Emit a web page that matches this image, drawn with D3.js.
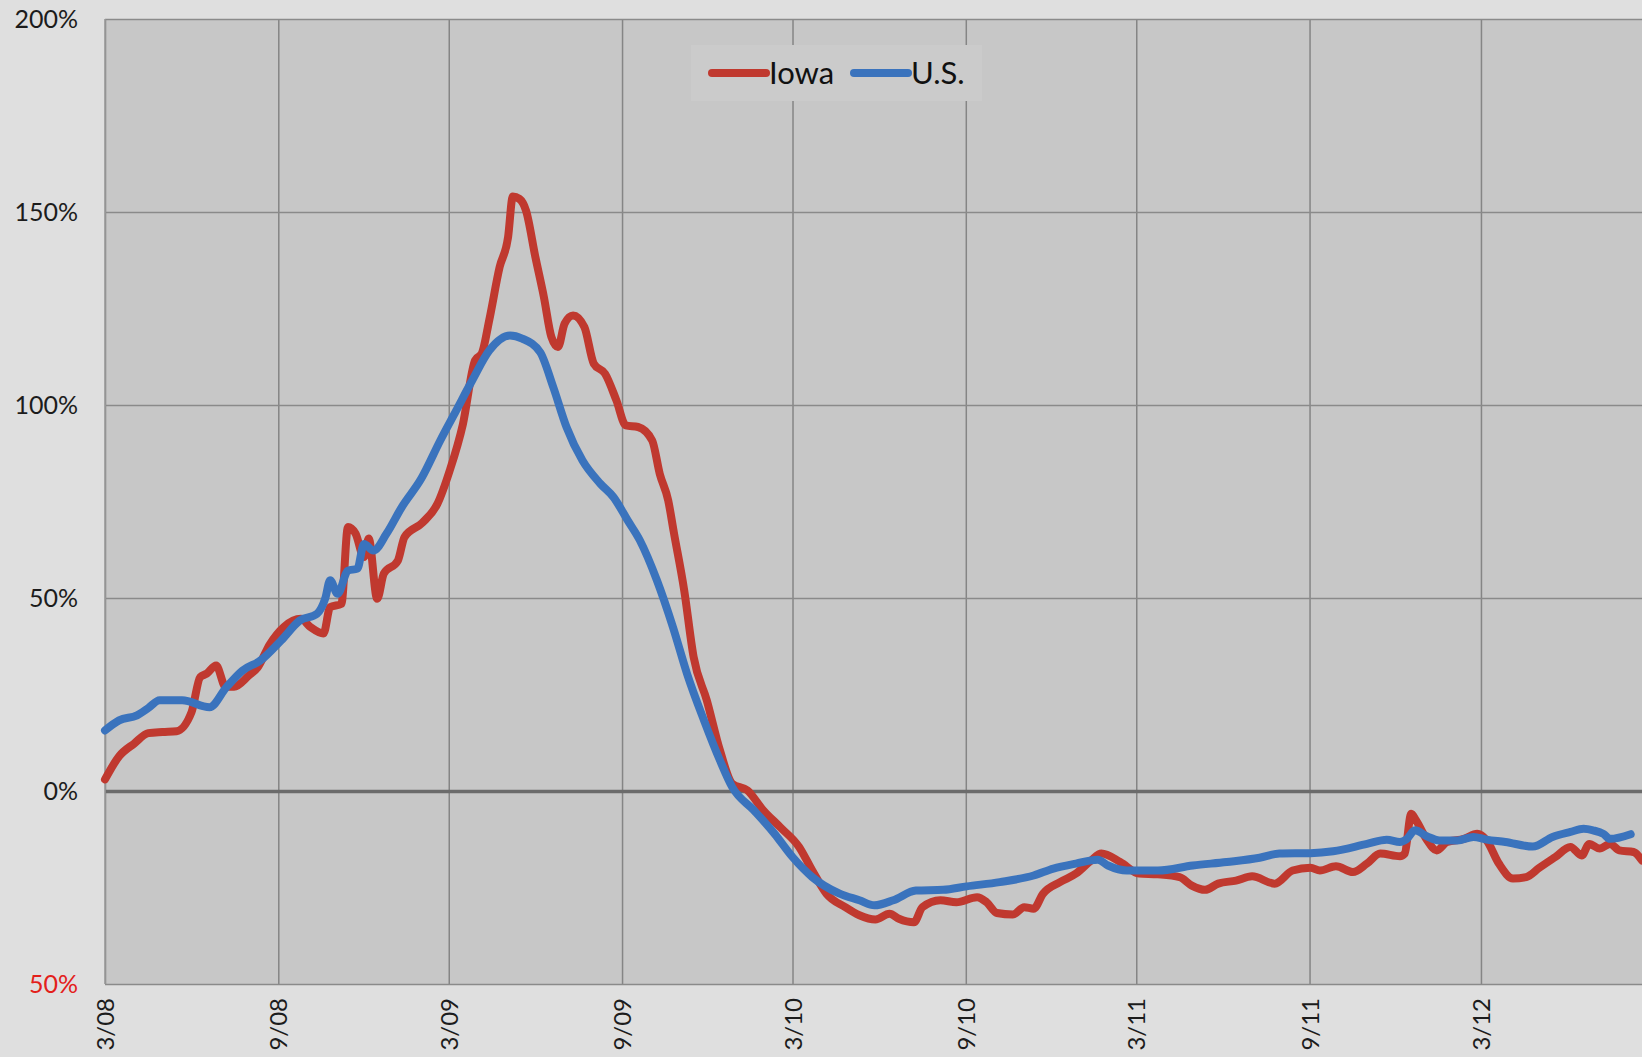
<!DOCTYPE html>
<html>
<head>
<meta charset="utf-8">
<script src="https://cdn.jsdelivr.net/npm/d3@7"></script>
<style>
  html, body { margin: 0; padding: 0; background: #dfdfdf; }
  svg { display: block; }
</style>
</head>
<body>
<svg id="chart" width="1642" height="1057"></svg>
<script>
// ---------- data ----------
const seriesNames = ["Iowa", "U.S."];

const xTickDates = ["2008-03-01","2008-09-01","2009-03-01","2009-09-01","2010-03-01","2010-09-01","2011-03-01","2011-09-01","2012-03-01"];
const xTickLabels = ["3/08","9/08","3/09","9/09","3/10","9/10","3/11","9/11","3/12"];

const yTickValues = [200, 150, 100, 50, 0, -50];
const yTickLabels = ["200%","150%","100%","50%","0%","50%"];

const iowaDates = [
"2008-03-01","2008-03-16","2008-04-01","2008-04-16","2008-05-01","2008-05-16","2008-06-01","2008-06-10","2008-06-17","2008-06-27",
"2008-07-07","2008-07-16","2008-08-01","2008-08-10","2008-08-23","2008-09-07","2008-09-25","2008-10-05","2008-10-19","2008-10-26",
"2008-11-07","2008-11-14","2008-11-22","2008-12-01","2008-12-06","2008-12-15","2008-12-22","2009-01-06","2009-01-13","2009-02-01",
"2009-02-17","2009-03-02","2009-03-16","2009-03-29","2009-04-05","2009-04-13","2009-04-24","2009-05-03","2009-05-08","2009-05-15",
"2009-05-22","2009-06-01","2009-06-10","2009-06-18","2009-06-25","2009-07-02","2009-07-11","2009-07-23","2009-08-02","2009-08-14",
"2009-08-26","2009-09-05","2009-09-18","2009-10-03","2009-10-11","2009-10-20","2009-10-26","2009-11-06","2009-11-16","2009-11-30",
"2009-12-14","2009-12-27","2010-01-12","2010-01-29","2010-02-16","2010-03-08","2010-03-22","2010-04-06","2010-04-26","2010-05-11",
"2010-05-28","2010-06-12","2010-06-22","2010-07-08","2010-07-17","2010-08-05","2010-08-22","2010-09-13","2010-09-23","2010-10-04",
"2010-10-21","2010-11-02","2010-11-12","2010-11-22","2010-12-10","2010-12-27","2011-01-12","2011-01-23","2011-02-12","2011-03-04",
"2011-03-24","2011-04-16","2011-04-29","2011-05-13","2011-05-27","2011-06-15","2011-07-02","2011-07-26","2011-08-14","2011-09-02",
"2011-09-12","2011-09-29","2011-10-17","2011-11-01","2011-11-15","2011-12-06","2011-12-11","2011-12-18","2011-12-23","2012-01-04",
"2012-01-14","2012-01-25","2012-02-12","2012-02-26","2012-03-07","2012-03-20","2012-04-04","2012-04-18","2012-05-02","2012-05-19",
"2012-06-04","2012-06-16","2012-06-24","2012-07-05","2012-07-16","2012-07-26","2012-08-10","2012-08-19"];
const iowaValues = [
3, 9, 12.3, 15, 15.3, 15.5, 20.5, 29.5, 30.4, 32.5,
27, 27, 30, 32, 38, 42.5, 44.6, 42.5, 40.8, 47.6,
48.5, 68.4, 66.7, 60.6, 65.4, 49.8, 56.3, 59.7, 65.8, 69.5,
74.4, 83, 95, 111.6, 113.3, 122, 135.7, 143.5, 154, 153.4,
150.4, 138.3, 128, 117.6, 115, 121.1, 123.2, 120.2, 110.7, 108.1,
101.2, 94.7, 94.3, 90.8, 82.2, 75.3, 67, 52, 34.7, 23.5,
10.5, 1.9, 0.2, -5, -9.4, -14.5, -20.6, -26.6, -30.1, -32.2,
-33.3, -31.8, -33.1, -34, -30.1, -28.3, -28.8, -27.5, -28.8, -31.6,
-32, -30.1, -30.5, -26.6, -23.6, -21.4, -18, -16.2, -18.4, -21.4,
-21.6, -22.3, -24.5, -25.6, -24, -23.2, -22.1, -24, -20.6, -19.9,
-20.6, -19.5, -21, -18.8, -16.2, -16.9, -16.2, -5.9, -7.6, -12.8,
-15.4, -13.2, -12.4, -11.1, -12.8, -18.8, -22.7, -22.3, -19.9, -17.1,
-14.5, -16.7, -13.7, -14.9, -13.7, -15.4, -15.8, -18];

const usDates = [
"2008-03-01","2008-03-16","2008-04-04","2008-04-16","2008-04-28","2008-05-22","2008-06-20","2008-07-08","2008-07-25","2008-08-13",
"2008-09-04","2008-09-24","2008-10-12","2008-10-21","2008-10-26","2008-11-03","2008-11-14","2008-11-24","2008-12-01","2008-12-11",
"2008-12-25","2009-01-10","2009-01-31","2009-02-20","2009-03-09","2009-03-26","2009-04-13","2009-05-05","2009-05-18","2009-06-06",
"2009-06-20","2009-07-04","2009-07-21","2009-08-09","2009-08-23","2009-09-07","2009-09-20","2009-10-08","2009-10-25","2009-11-09",
"2009-11-27","2009-12-14","2009-12-27","2010-01-19","2010-02-10","2010-03-01","2010-03-22","2010-04-20","2010-05-11","2010-05-27",
"2010-06-16","2010-07-10","2010-08-08","2010-09-02","2010-10-07","2010-11-12","2010-12-03","2010-12-27","2011-01-19","2011-01-30",
"2011-02-19","2011-03-24","2011-04-30","2011-06-05","2011-07-10","2011-07-31","2011-09-02","2011-09-26","2011-11-01","2011-11-22",
"2011-12-06","2011-12-13","2011-12-22","2012-01-04","2012-01-17","2012-02-05","2012-02-22","2012-03-07","2012-03-27","2012-04-25",
"2012-05-16","2012-06-04","2012-06-18","2012-06-28","2012-07-09","2012-07-16","2012-08-07"];
const usValues = [
15.7, 18.3, 19.6, 21.5, 23.5, 23.5, 21.7, 26.9, 31.2, 33.8,
39, 44.2, 45.9, 50, 54.6, 51.1, 57.1, 57.6, 64, 62.3,
66.7, 73.5, 81, 90.8, 98.6, 106.4, 114.1, 118, 117.2, 113.7,
104.6, 94.3, 85.6, 79.6, 76.1, 70.1, 64.9, 54.6, 42.5, 30.4,
18.3, 7.9, 1, -5, -11.1, -17.1, -22.3, -26.6, -28.3, -29.6,
-28.3, -25.8, -25.6, -24.7, -23.6, -21.9, -20.1, -18.8, -17.8, -19.3,
-20.6, -20.6, -19.3, -18.4, -17.3, -16.2, -16.1, -15.6, -13.7, -12.6,
-13.2, -12.5, -10.2, -11.8, -12.8, -12.8, -11.9, -12.6, -13.2, -14.4,
-11.9, -10.6, -9.8, -10.2, -11.1, -12.4, -11.2];

const seriesColors = ["#c0392f", "#3a73bd"];

// ---------- layout ----------
const W = 1642, H = 1057;
const plot = { left: 105, top: 19, right: 1642, bottom: 984 };
const parse = d3.timeParse("%Y-%m-%d");
const FONT = "Lato, 'Open Sans', 'DejaVu Sans', sans-serif";

const svg = d3.select("#chart");

const x = d3.scaleTime()
  .domain([parse("2008-03-01"), parse("2012-08-19")])
  .range([plot.left, plot.right]);
const y = d3.scaleLinear()
  .domain([-50, 200])
  .range([plot.bottom, plot.top]);

// background
svg.append("rect").attr("x", 0).attr("y", 0).attr("width", W).attr("height", H).attr("fill", "#dfdfdf");
svg.append("rect")
  .attr("x", plot.left).attr("y", plot.top)
  .attr("width", plot.right - plot.left).attr("height", plot.bottom - plot.top)
  .attr("fill", "#c7c7c7");

// vertical grid
const xGrid = svg.append("g")
  .attr("transform", `translate(0,${plot.bottom})`)
  .call(d3.axisBottom(x).tickValues(xTickDates.map(parse)).tickSize(-(plot.bottom - plot.top)).tickFormat(""));
xGrid.select(".domain").remove();
xGrid.selectAll("line").attr("stroke", "#858585").attr("stroke-width", 1.5);

// horizontal grid
const yGrid = svg.append("g")
  .attr("transform", `translate(${plot.left},0)`)
  .call(d3.axisLeft(y).tickValues(yTickValues).tickSize(-(plot.right - plot.left)).tickFormat(""));
yGrid.select(".domain").remove();
yGrid.selectAll("line")
  .attr("stroke", d => d === 0 ? "#6b6b6b" : "#8a8a8a")
  .attr("stroke-width", d => d === 0 ? 3.5 : 1.5);

// plot border (left)
svg.append("line")
  .attr("x1", plot.left).attr("x2", plot.left)
  .attr("y1", plot.top).attr("y2", plot.bottom)
  .attr("stroke", "#9a9a9a").attr("stroke-width", 1.5);

// y axis labels
const yAxis = svg.append("g")
  .attr("transform", `translate(${plot.left},0)`)
  .call(d3.axisLeft(y).tickValues(yTickValues).tickSize(0).tickPadding(27)
    .tickFormat((d, i) => yTickLabels[i]));
yAxis.select(".domain").remove();
yAxis.selectAll("text")
  .attr("font-family", FONT).attr("font-size", 25)
  .attr("fill", d => d < 0 ? "#e3201b" : "#1c1c1c");

// x axis labels
const xAxis = svg.append("g")
  .attr("transform", `translate(0,${plot.bottom})`)
  .call(d3.axisBottom(x).tickValues(xTickDates.map(parse)).tickSize(0)
    .tickFormat((d, i) => xTickLabels[i]));
xAxis.select(".domain").remove();
xAxis.selectAll("text")
  .attr("font-family", FONT).attr("font-size", 24).attr("fill", "#1c1c1c")
  .attr("transform", "rotate(-90)")
  .attr("text-anchor", "end")
  .attr("x", -14).attr("y", 0).attr("dy", "0.36em");

// lines
const line = d3.line()
  .x(d => x(d.date))
  .y(d => y(d.value))
  .curve(d3.curveMonotoneX);

const iowa = iowaDates.map((d, i) => ({ date: parse(d), value: iowaValues[i] }));
const us = usDates.map((d, i) => ({ date: parse(d), value: usValues[i] }));

[iowa, us].forEach((data, k) => {
  svg.append("path")
    .datum(data)
    .attr("d", line)
    .attr("fill", "none")
    .attr("stroke", seriesColors[k])
    .attr("stroke-width", 8)
    .attr("stroke-linejoin", "round")
    .attr("stroke-linecap", "round");
});

// legend
const legend = svg.append("g");
legend.append("rect")
  .attr("x", 691).attr("y", 45).attr("width", 291).attr("height", 56)
  .attr("fill", "#cbcbcb");
const legendItems = [
  { x1: 712, x2: 766, tx: 769 },
  { x1: 854, x2: 908, tx: 911 }
];
legendItems.forEach((it, i) => {
  legend.append("line")
    .attr("x1", it.x1).attr("x2", it.x2).attr("y1", 73).attr("y2", 73)
    .attr("stroke", seriesColors[i]).attr("stroke-width", 8).attr("stroke-linecap", "round");
  legend.append("text")
    .attr("x", it.tx).attr("y", 73).attr("dy", "0.35em")
    .attr("font-family", FONT).attr("font-size", 31).attr("fill", "#111")
    .text(seriesNames[i]);
});
</script>
</body>
</html>
